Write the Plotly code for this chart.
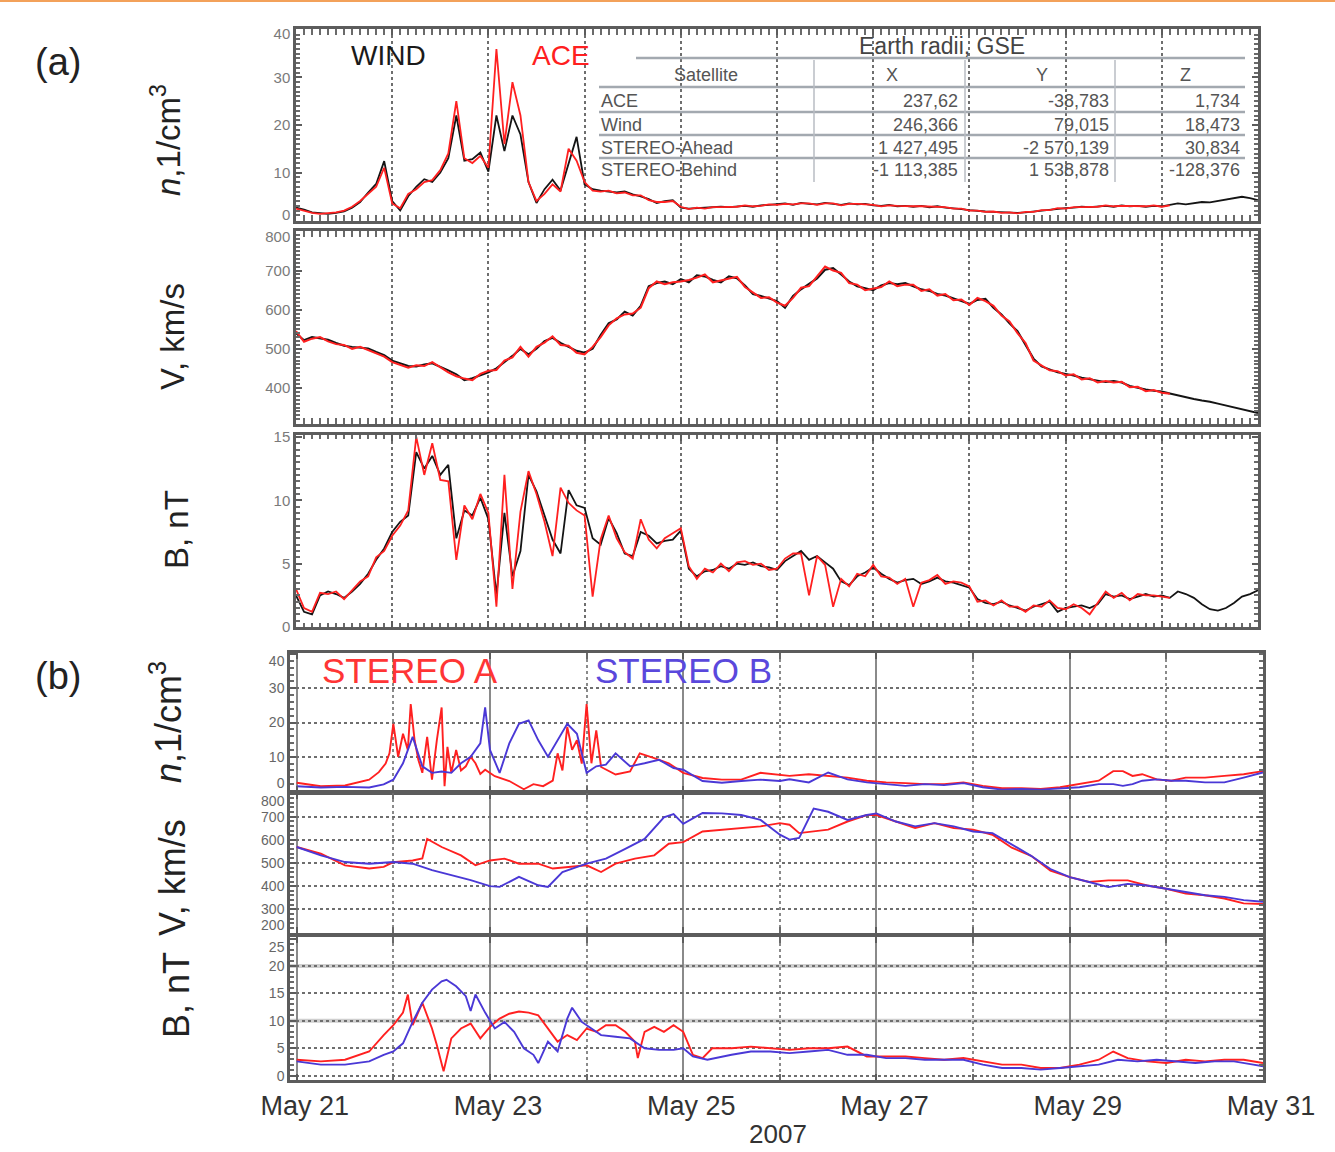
import plotly.graph_objects as go
import pandas as pd

W, H = 1335, 1152
T0 = pd.Timestamp("2007-05-21")

# ---------------- data ----------------
# Panel (a): 2-hourly samples, days since 2007-05-21 00:00
a_days = [i / 12 for i in range(121)]

wind_n = [2.6, 2.2, 1.6, 1.4, 1.3, 1.5, 1.8, 2.6, 3.8, 5.8, 7.6, 12.4,
          4.0, 2.0, 5.0, 7.0, 8.6, 8.0, 10.0, 13.0, 22.0, 12.5, 12.8, 14.2,
          10.2, 22.0, 14.5, 22.0, 18.0, 8.0, 3.6, 6.5, 8.5, 6.2, 12.0, 17.5,
          7.5, 6.5, 6.2, 6.0, 5.8, 6.0, 5.4, 5.0, 4.4, 3.6, 4.0, 4.2,
          2.6, 2.4, 2.5, 2.5, 2.6, 2.8, 2.7, 2.9, 3.0, 2.8, 3.1, 3.2,
          3.3, 3.5, 3.2, 3.6, 3.4, 3.3, 3.6, 3.4, 3.2, 3.5, 3.3, 3.4,
          3.1, 3.0, 3.2, 2.9, 3.0, 2.8, 3.0, 2.7, 2.9, 2.6, 2.5, 2.3,
          2.1, 1.9, 1.8, 1.7, 1.6, 1.5, 1.5, 1.6, 1.8, 2.0, 2.2, 2.4,
          2.5, 2.6, 2.8, 2.7, 2.9, 3.0, 2.8, 3.1, 2.9, 3.0, 2.8, 3.0,
          2.9, 3.2, 3.5, 3.3, 3.6, 3.8, 3.7, 4.0, 4.3, 4.5, 4.9, 4.6,
          4.2]
ace_n = [2.4, 2.0, 1.5, 1.3, 1.4, 1.6, 2.0, 2.8, 4.0, 5.5, 7.0, 11.0,
         3.5, 2.5, 5.5, 6.5, 8.0, 8.4, 10.5, 14.0, 25.0, 13.0, 12.0, 13.5,
         11.0, 36.0, 16.0, 29.0, 22.0, 8.0, 4.0, 5.5, 7.5, 6.0, 15.0, 12.5,
         8.0, 6.2, 6.0, 6.2, 5.6, 5.8, 5.2, 5.2, 4.2, 3.8, 3.8, 4.0,
         2.8, 2.3, 2.6, 2.4, 2.7, 2.7, 2.8, 2.8, 3.1, 2.9, 3.0, 3.3,
         3.2, 3.4, 3.3, 3.5, 3.5, 3.2, 3.5, 3.5, 3.1, 3.4, 3.4, 3.3,
         3.2, 2.9, 3.1, 3.0, 2.9, 2.9, 2.9, 2.8, 2.8, 2.7, 2.4, 2.4,
         2.0, 2.0, 1.7, 1.8, 1.5, 1.6, 1.4, 1.7, 1.7, 2.1, 2.1, 2.5,
         2.4, 2.7, 2.7, 2.8, 2.8, 3.1, 2.9, 3.0, 3.0, 2.9, 2.9, 3.1,
         2.8, 3.1]

wind_v = [540, 522, 530, 527, 523, 515, 508, 505, 503, 501, 492, 484,
          470, 462, 456, 455, 460, 463, 455, 445, 435, 420, 425, 432,
          440, 450, 465, 482, 500, 486, 500, 520, 528, 515, 505, 495,
          490, 500, 535, 565, 575, 595, 585, 610, 660, 668, 672, 665,
          678, 670, 688, 685, 676, 670, 685, 680, 662, 640, 635, 628,
          622, 605, 635, 652, 665, 680, 702, 706, 690, 672, 660, 655,
          650, 662, 668, 665, 668, 660, 652, 648, 640, 636, 628, 622,
          615, 625, 628, 605, 588, 565, 545, 510, 475, 455, 448, 440,
          436, 432, 426, 422, 418, 415, 418, 414, 405, 400, 396, 393,
          391, 386, 381, 376, 372, 368, 365, 360, 355, 351, 346, 341,
          336]
ace_v = [545, 518, 526, 530, 519, 512, 510, 500, 505, 497, 490, 480,
         466, 458, 452, 458, 456, 466, 452, 440, 430, 424, 420, 436,
         444, 446, 470, 478, 505, 480, 505, 516, 532, 510, 508, 490,
         486, 505, 530, 560, 578, 588, 590, 605, 655, 672, 665, 670,
         672, 676, 682, 690, 670, 675, 680, 684, 658, 645, 630, 632,
         618, 610, 630, 656, 660, 685, 710, 700, 694, 668, 664, 650,
         655, 658, 672, 660, 664, 664, 648, 652, 636, 640, 624, 626,
         612, 630, 622, 610, 585, 570, 540, 515, 470, 458, 445, 443,
         432, 435, 422, 425, 414, 418, 414, 416, 402, 403, 392, 395,
         388, 385]

wind_b = [2.5, 1.2, 1.0, 2.5, 2.8, 2.6, 2.3, 2.8, 3.4, 4.2, 5.3, 6.2,
          7.5, 8.3, 8.8, 13.8, 12.5, 13.5, 12.0, 12.8, 7.0, 9.2, 8.8, 10.2,
          8.5, 2.5, 9.0, 4.0, 6.0, 12.0, 10.7, 8.8, 6.9, 5.8, 10.8, 9.6,
          9.4, 7.0, 6.5, 8.6, 7.4, 5.8, 5.6, 7.5, 7.2, 6.6, 6.8, 6.9,
          7.6, 4.6, 4.0, 4.4, 4.5, 4.8, 4.6, 5.0, 4.9, 5.1, 4.8, 4.7,
          4.5, 5.2, 5.6, 6.0, 5.3, 5.6, 5.1, 4.6, 3.6, 3.3, 4.0, 4.3,
          4.7, 4.2, 3.8, 3.5, 3.7, 3.8, 3.4, 3.6, 3.9, 3.6, 3.5, 3.3,
          3.1, 2.2, 1.9, 1.8, 2.0, 1.7, 1.5, 1.3, 1.6, 1.8, 2.0, 1.2,
          1.5, 1.6, 1.7, 1.5, 1.8, 2.6, 2.4, 2.5, 2.2, 2.4, 2.6, 2.4,
          2.5, 2.3, 2.8, 2.6, 2.3, 1.8, 1.4, 1.3, 1.5, 1.9, 2.4, 2.6,
          2.9]
ace_b = [3.0, 1.5, 1.2, 2.7, 2.6, 2.8, 2.2, 2.9, 3.6, 4.0, 5.5, 6.0,
         7.2, 8.0, 9.2, 15.0, 12.0, 14.5, 11.6, 11.5, 5.3, 9.6, 8.5, 10.5,
         9.0, 1.6, 12.0, 3.0, 9.1, 12.3, 10.5, 8.3, 5.6, 11.0, 9.8, 9.2,
         8.8, 2.4, 6.9, 8.8, 7.0, 5.9, 5.4, 8.5, 6.9, 6.2, 7.0, 7.4,
         7.8, 4.8, 3.8, 4.6, 4.3, 5.0, 4.4, 5.1, 5.2, 4.9, 5.0, 4.5,
         4.6, 5.4, 5.8, 5.8, 2.5, 5.6, 4.9, 1.6, 3.8, 3.2, 4.2, 4.0,
         4.9, 4.0, 3.9, 3.4, 3.8, 1.6, 3.5, 3.7, 4.1, 3.4, 3.6, 3.5,
         3.2, 2.0, 2.1, 1.7, 2.1, 1.6, 1.6, 1.2, 1.7, 1.6, 2.1, 1.5,
         1.4, 1.8, 1.5, 1.0, 1.9, 2.8, 2.3, 2.7, 2.1, 2.6, 2.5, 2.5,
         2.4, 2.3]

# Panel (b): STEREO A / B (days since 2007-05-21 00:00)
sta_n_days = [0, 0.25, 0.5, 0.75, 0.85, 0.92, 0.96, 1.0, 1.05, 1.1,
              1.15, 1.18, 1.22, 1.26, 1.3, 1.35, 1.4, 1.45, 1.5, 1.53,
              1.56, 1.6, 1.65, 1.7, 1.75, 1.8, 1.85, 1.9, 1.95, 2.05,
              2.2, 2.35, 2.45, 2.55, 2.65, 2.7, 2.75, 2.8, 2.85, 2.9,
              2.95, 3.0, 3.05, 3.1, 3.15, 3.2, 3.3, 3.45, 3.55, 3.7,
              3.85, 4.0, 4.2, 4.4, 4.6, 4.8, 5.0, 5.1, 5.3, 5.5,
              5.7, 5.9, 6.1, 6.3, 6.5, 6.7, 6.9, 7.1, 7.3, 7.5,
              7.7, 7.9, 8.1, 8.3, 8.45, 8.55, 8.65, 8.75, 8.9, 9.05,
              9.2, 9.4, 9.6, 9.8, 10]
sta_n = [2.4, 1.4, 1.6, 3.3, 5.5, 8.0, 11.0, 19.6, 10.0, 16.7,
         12.0, 25.4, 14.8, 9.0, 5.3, 15.8, 3.3, 14.8, 24.4, 1.4,
         12.9, 5.3, 12.0, 6.0, 7.2, 10.0, 8.1, 5.0, 6.2, 4.3,
         2.9, 0.5, 2.0, 1.4, 3.0, 11.0, 6.0, 18.7, 12.0, 14.8,
         8.0, 25.4, 8.1, 17.7, 7.0, 6.2, 4.8, 5.7, 11.0, 9.6,
         8.1, 5.3, 3.8, 3.3, 3.3, 5.3, 4.8, 4.4, 4.9, 4.4,
         3.9, 3.0, 2.5, 2.3, 2.0, 2.0, 2.5, 1.5, 0.8, 0.8,
         0.6, 1.1, 2.0, 3.0, 5.8, 5.8, 4.4, 4.9, 3.4, 3.0,
         3.9, 3.9, 4.4, 4.9, 5.8]
stb_n_days = [0, 0.25, 0.5, 0.75, 0.9, 1.0, 1.1, 1.2, 1.3, 1.4,
              1.5, 1.6, 1.7, 1.8, 1.9, 1.95, 2.0, 2.1, 2.2, 2.3,
              2.4, 2.5, 2.6, 2.7, 2.8, 2.9, 3.0, 3.1, 3.2, 3.3,
              3.45, 3.6, 3.75, 3.9, 4.0, 4.2, 4.4, 4.6, 4.8, 5.0,
              5.1, 5.3, 5.5, 5.7, 5.9, 6.1, 6.3, 6.5, 6.7, 6.9,
              7.1, 7.3, 7.5, 7.7, 7.9, 8.1, 8.3, 8.45, 8.55, 8.65,
              8.75, 8.9, 9.05, 9.2, 9.4, 9.6, 9.8, 10]
stb_n = [1.4, 1.0, 1.2, 1.0, 1.9, 3.3, 8.1, 15.8, 7.2, 5.3,
         5.7, 5.3, 8.1, 10.0, 13.9, 24.4, 12.0, 5.3, 13.9, 19.6,
         20.6, 14.8, 10.0, 14.8, 19.6, 16.7, 5.3, 7.2, 7.7, 11.0,
         7.2, 8.1, 9.1, 6.7, 6.2, 2.9, 2.4, 2.9, 3.3, 2.9,
         3.4, 2.5, 5.4, 3.4, 2.5, 2.0, 1.5, 2.0, 1.7, 2.3,
         1.1, 0.4, 0.6, 0.4, 0.8, 1.1, 2.0, 2.0, 1.5, 2.0,
         3.0, 3.4, 3.0, 3.0, 2.5, 2.5, 3.9, 5.4]

sta_v_days = [0, 0.25, 0.5, 0.75, 0.9, 1.0, 1.2, 1.3, 1.35, 1.5,
              1.7, 1.85, 2.0, 2.15, 2.3, 2.5, 2.65, 2.8, 3.0, 3.15,
              3.3, 3.5, 3.7, 3.85, 4.0, 4.2, 4.4, 4.6, 4.8, 5.0,
              5.1, 5.2, 5.35, 5.5, 5.7, 5.9, 6.0, 6.2, 6.4, 6.6,
              6.8, 7.0, 7.2, 7.4, 7.6, 7.8, 8.0, 8.2, 8.4, 8.6,
              8.8, 9.0, 9.2, 9.4, 9.6, 9.8, 10]
sta_v = [569, 540, 490, 476, 483, 504, 511, 520, 604, 569,
         533, 490, 511, 519, 497, 497, 476, 483, 490, 461,
         497, 519, 533, 583, 590, 636, 644, 651, 658, 672,
         665, 629, 636, 644, 679, 707, 707, 679, 651, 672,
         651, 644, 622, 566, 531, 467, 439, 418, 425, 425,
         403, 389, 368, 361, 347, 326, 323]
stb_v_days = [0, 0.25, 0.5, 0.75, 1.0, 1.2, 1.4, 1.6, 1.8, 2.0,
              2.1, 2.3, 2.5, 2.6, 2.75, 3.0, 3.2, 3.4, 3.6, 3.8,
              3.9, 4.0, 4.2, 4.4, 4.6, 4.8, 5.0, 5.1, 5.2, 5.35,
              5.5, 5.7, 5.9, 6.0, 6.2, 6.4, 6.6, 6.8, 7.0, 7.2,
              7.4, 7.6, 7.8, 8.0, 8.2, 8.4, 8.6, 8.8, 9.0, 9.2,
              9.4, 9.6, 9.8, 10]
stb_v = [569, 533, 504, 497, 504, 497, 469, 447, 426, 400,
         397, 440, 404, 397, 461, 497, 519, 561, 604, 697,
         711, 669, 716, 714, 707, 686, 622, 601, 608, 735,
         721, 686, 707, 714, 679, 658, 672, 658, 636, 629,
         580, 531, 474, 439, 418, 396, 410, 403, 389, 375,
         361, 354, 340, 333]

sta_b_days = [0, 0.25, 0.5, 0.75, 0.9, 1.0, 1.1, 1.15, 1.2, 1.3,
              1.4, 1.45, 1.52, 1.6, 1.7, 1.8, 1.9, 2.0, 2.1, 2.2,
              2.3, 2.4, 2.5, 2.6, 2.7, 2.8, 2.9, 3.0, 3.1, 3.2,
              3.3, 3.4, 3.5, 3.53, 3.6, 3.7, 3.8, 3.9, 4.0, 4.1,
              4.2, 4.3, 4.5, 4.7, 4.9, 5.1, 5.3, 5.5, 5.7, 5.9,
              6.1, 6.3, 6.5, 6.7, 6.9, 7.1, 7.3, 7.5, 7.7, 7.9,
              8.1, 8.3, 8.45, 8.6, 8.8, 9.0, 9.2, 9.4, 9.6, 9.8,
              10]
sta_b = [2.9, 2.6, 2.9, 4.4, 7.4, 9.2, 11.5, 14.8, 9.2, 13.3,
         8.6, 5.6, 0.8, 6.8, 8.6, 9.5, 6.8, 8.9, 10.4, 11.3,
         11.7, 11.5, 11.0, 8.6, 6.2, 7.4, 6.5, 8.6, 8.0, 9.2,
         9.2, 8.0, 6.2, 3.2, 8.0, 8.9, 8.0, 9.2, 8.0, 3.8,
         3.2, 5.0, 5.0, 5.3, 5.0, 4.7, 5.0, 5.0, 5.3, 3.5,
         3.5, 3.5, 3.2, 2.9, 3.2, 2.6, 2.0, 2.0, 1.4, 1.4,
         2.0, 2.9, 4.4, 3.2, 2.6, 2.3, 2.9, 2.6, 2.9, 2.9,
         2.3]
stb_b_days = [0, 0.25, 0.5, 0.75, 0.9, 1.0, 1.1, 1.2, 1.3, 1.4,
              1.5, 1.55, 1.65, 1.75, 1.8, 1.85, 1.95, 2.05, 2.15, 2.25,
              2.35, 2.45, 2.5, 2.6, 2.7, 2.8, 2.85, 2.95, 3.05, 3.15,
              3.3, 3.45, 3.6, 3.75, 3.9, 4.0, 4.1, 4.25, 4.5, 4.7,
              4.9, 5.1, 5.3, 5.5, 5.7, 5.9, 6.1, 6.3, 6.5, 6.7,
              6.9, 7.1, 7.3, 7.5, 7.7, 7.9, 8.1, 8.3, 8.5, 8.7,
              8.9, 9.1, 9.3, 9.5, 9.7, 9.9, 10]
stb_b = [2.6, 2.0, 2.0, 2.6, 3.8, 4.4, 5.9, 9.8, 13.3, 15.7,
         17.2, 17.5, 16.3, 14.5, 11.8, 14.8, 11.5, 8.6, 9.8, 8.0,
         5.0, 3.8, 2.3, 6.2, 4.4, 10.4, 12.4, 9.8, 8.6, 7.4,
         7.1, 6.8, 5.0, 4.7, 4.7, 5.0, 3.5, 2.9, 3.8, 4.4,
         4.4, 4.1, 4.4, 4.7, 3.8, 3.8, 3.2, 3.2, 2.9, 2.9,
         2.9, 2.0, 1.4, 1.4, 1.1, 1.4, 1.7, 2.0, 2.9, 2.6,
         2.9, 2.6, 2.3, 2.6, 2.6, 2.0, 1.7]

# y tick values of each panel (inner labels / edge labels)
a_n_ticks, a_n_edge = [10, 20, 30], [0, 40]
a_v_ticks, a_v_edge = [400, 500, 600, 700], [800]
a_b_ticks = [0, 5, 10, 15]
b_n_ticks, b_n_edge = [10, 20, 30], [0, 40]
b_v_ticks, b_v_edge = [300, 400, 500, 600, 700], [800, 200]
b_b_ticks, b_b_edge = [0, 5, 10, 15, 20], [25]

# inset table (Earth radii, GSE)
tbl_title = "Earth radii, GSE"
tbl_header = ["Satellite", "X", "Y", "Z"]
tbl_names = ["ACE", "Wind", "STEREO-Ahead", "STEREO-Behind"]
tbl_x = ["237,62", "246,366", "1 427,495", "-1 113,385"]
tbl_y = ["-38,783", "79,015", "-2 570,139", "1 538,878"]
tbl_z = ["1,734", "18,473", "30,834", "-128,376"]

# heavy grey reference lines in STEREO B-panel
b_b_bands = [10, 20]

# ---------------- helpers ----------------
FONT = "Liberation Sans, Arial, sans-serif"
RED = "#ff2020"
BLUE = "#4a38d6"
BLACK = "#141414"
FRAME_COLOR = "#5c5c5c"


def to_time(days):
    return [T0 + pd.Timedelta(days=d) for d in days]


def px_x(p):
    return p / W


def px_y(p):
    return 1 - p / H


fig = go.Figure()


def add_line(days, vals, color, width, ax):
    fig.add_trace(go.Scatter(
        x=to_time(days[:len(vals)]), y=vals, mode="lines",
        line=dict(color=color, width=width),
        xaxis="x" + ax, yaxis="y" + ax, showlegend=False,
        hoverinfo="skip"))


# (a) WIND (black) under ACE (red)
add_line(a_days, wind_n, BLACK, 1.8, "")
add_line(a_days, ace_n, RED, 1.8, "")
add_line(a_days, wind_v, BLACK, 2.0, "2")
add_line(a_days, ace_v, RED, 2.0, "2")
add_line(a_days, wind_b, BLACK, 1.8, "3")
add_line(a_days, ace_b, RED, 1.8, "3")
# (b) STEREO A (red) / STEREO B (blue)
add_line(sta_n_days, sta_n, RED, 1.9, "4")
add_line(stb_n_days, stb_n, BLUE, 1.9, "4")
add_line(sta_v_days, sta_v, RED, 1.9, "5")
add_line(stb_v_days, stb_v, BLUE, 1.9, "5")
add_line(sta_b_days, sta_b, RED, 1.9, "6")
add_line(stb_b_days, stb_b, BLUE, 1.9, "6")

DAY = 86400000
frame = dict(showline=True, linecolor=FRAME_COLOR, linewidth=2.5, mirror="allticks",
             ticks="inside", ticklen=6, tickwidth=1.5, tickcolor=FRAME_COLOR,
             zeroline=False, automargin=False)

xa = dict(frame, type="date", domain=[px_x(296), px_x(1258)],
          range=["2007-05-21", "2007-05-31"], dtick=DAY, tick0="2007-05-21",
          showgrid=True, gridcolor="#6e6e6e", griddash="dot", gridwidth=1.6,
          showticklabels=False,
          minor=dict(dtick=DAY / 12, ticks="inside", ticklen=4,
                     tickcolor="#6a6a6a", showgrid=False))
xb = dict(frame, type="date", domain=[px_x(290), px_x(1263)],
          range=["2007-05-20 22:20", "2007-05-31"], dtick=2 * DAY,
          tick0="2007-05-21", showgrid=True, gridcolor="#8a8a8a", gridwidth=1.5,
          showticklabels=False,
          minor=dict(dtick=DAY, ticks="inside", ticklen=5, tickcolor="#6a6a6a",
                     showgrid=True, griddash="dot", gridcolor="#8a8a8a",
                     gridwidth=1.5))

ya_font = dict(family=FONT, size=15, color="#7a7a7a")
yb_font = dict(family=FONT, size=14, color="#666666")
bgrid = dict(showgrid=True, griddash="dot", gridcolor="#6e6e6e", gridwidth=1.5)

# y-axis setup: number -> (x anchor, pixel top, pixel bottom, range, ticks, minor dtick, font, grid)
ycfg = {
    1: ("x", 29, 221, [-0.2, 40.2], a_n_ticks, 1, ya_font, dict(showgrid=False)),
    2: ("x2", 231, 424, [308, 801], a_v_ticks, 10, ya_font, dict(showgrid=False)),
    3: ("x3", 435, 627, [0, 15.15], a_b_ticks, 0.5, ya_font, dict(showgrid=False)),
    4: ("x4", 653, 792, [-0.3, 40.3], b_n_ticks, 2, yb_font, bgrid),
    5: ("x5", 793, 933, [198, 802], b_v_ticks, 20, yb_font, bgrid),
    6: ("x6", 937, 1080, [-0.8, 25.3], b_b_ticks, 1, yb_font, bgrid),
}

layout = dict(
    width=W, height=H, margin=dict(l=0, r=0, t=0, b=0, autoexpand=False),
    paper_bgcolor="white", plot_bgcolor="white",
    font=dict(family=FONT), showlegend=False,
    xaxis=dict(xa, anchor="y"),
    xaxis2=dict(xa, anchor="y2", matches="x"),
    xaxis3=dict(xa, anchor="y3", matches="x"),
    xaxis4=dict(xb, anchor="y4"),
    xaxis5=dict(xb, anchor="y5", matches="x4"),
    xaxis6=dict(xb, anchor="y6", matches="x4", showticklabels=True,
                tickformat="%b %d", ticklabelshift=8,
                tickfont=dict(family=FONT, size=27, color="#333333")),
)
for k, (xref, top, bot, rng, ticks, mdt, fnt, grid) in ycfg.items():
    name = "yaxis" if k == 1 else "yaxis%d" % k
    layout[name] = dict(frame, anchor=xref, domain=[px_y(bot), px_y(top)], range=rng,
                        tickmode="array", tickvals=ticks, tickfont=fnt, **grid,
                        minor=dict(dtick=mdt, ticks="inside", ticklen=4,
                                   tickcolor="#6a6a6a"))

# edge tick labels (at the frame) are pushed inward, as in the original figure;
# drawn by label-only axes overlaying the panel axes.
# (panel, tick values, pixel shift; positive = down the page)
edge_cfg = [(1, a_n_edge[:1], -5), (1, a_n_edge[1:], 4), (2, a_v_edge, 5),
            (4, b_n_edge[:1], -8), (4, b_n_edge[1:], 7),
            (5, b_v_edge[:1], 8), (5, b_v_edge[1:], -7), (6, b_b_edge, 8)]
nxt = 7
for panel, vals, shift in edge_cfg:
    xref, top, bot, rng, ticks, mdt, fnt, grid = ycfg[panel]
    base = "y" if panel == 1 else "y%d" % panel
    layout["yaxis%d" % nxt] = dict(
        overlaying=base, anchor=xref, side="left", range=rng,
        tickmode="array", tickvals=vals, ticklabelshift=shift,
        showline=True, linecolor=FRAME_COLOR, linewidth=2.5,
        ticks="inside", ticklen=6, tickwidth=1.5, tickcolor=FRAME_COLOR,
        showgrid=False, zeroline=False, tickfont=fnt, automargin=False)
    # an empty trace so that the label axis is instantiated
    fig.add_trace(go.Scatter(x=[None], y=[None], mode="lines", xaxis=xref,
                             yaxis="y%d" % nxt, showlegend=False, hoverinfo="skip"))
    nxt += 1

fig.update_layout(**layout)

shapes = []
# orange rule at top of page
shapes.append(dict(type="line", xref="paper", yref="paper", x0=0, x1=1, y0=1, y1=1,
                   line=dict(color="#f3a15a", width=4)))
# heavy grey reference lines in (b) B-panel
for v in b_b_bands:
    shapes.append(dict(type="line", xref="x6 domain", yref="y6", x0=0, x1=1,
                       y0=v, y1=v, layer="below",
                       line=dict(color="#cfcfcf", width=4)))
# table rules
TL = "#a3a9b0"
shapes.append(dict(type="line", xref="paper", yref="paper", x0=px_x(636), x1=px_x(1245),
                   y0=px_y(58), y1=px_y(58), line=dict(color=TL, width=2.5)))
for yy in [87, 112, 135, 158]:
    shapes.append(dict(type="line", xref="paper", yref="paper", x0=px_x(599),
                       x1=px_x(1245), y0=px_y(yy), y1=px_y(yy),
                       line=dict(color=TL, width=2.5)))
for xx in [814, 965, 1115]:
    shapes.append(dict(type="line", xref="paper", yref="paper", x0=px_x(xx), x1=px_x(xx),
                       y0=px_y(60), y1=px_y(182), line=dict(color="#b8bdc3", width=1.5)))
fig.update_layout(shapes=shapes)

ann = []


def text(s, x, y, size, color="#222222", xanchor="center", angle=0):
    ann.append(dict(text=s, x=px_x(x), y=px_y(y), xref="paper", yref="paper",
                    xanchor=xanchor, yanchor="middle", showarrow=False,
                    textangle=angle, font=dict(family=FONT, size=size, color=color)))


text("(a)", 58, 62, 38)
text("(b)", 58, 676, 38)
text("<i>n</i>,1/cm<sup>3</sup>", 166, 140, 33, angle=-90)
text("V, km/s", 172, 337, 33, angle=-90)
text("B, nT", 176, 530, 33, angle=-90)
text("<i>n</i>,1/cm<sup>3</sup>", 166, 722, 36, angle=-90)
text("V, km/s", 172, 878, 36, angle=-90)
text("B, nT", 176, 995, 36, angle=-90)
text("WIND", 388, 55, 28, "#1a1a1a")
text("ACE", 561, 55, 28, RED)
text("STEREO A", 410, 670, 35, "#ff3535")
text("STEREO B", 683, 670, 35, "#5a48dc")
text("2007", 778, 1134, 26, "#333333")

TC = "#555555"
text(tbl_title, 942, 46, 23, "#444444")
for s, xx in zip(tbl_header, [706, 892, 1042, 1185]):
    text(s, xx, 75, 18, TC)
for i, yy in enumerate([101, 125, 148, 170]):
    text(tbl_names[i], 599, yy, 18, TC, xanchor="left")
    text(tbl_x[i], 960, yy, 18, TC, xanchor="right")
    text(tbl_y[i], 1111, yy, 18, TC, xanchor="right")
    text(tbl_z[i], 1242, yy, 18, TC, xanchor="right")

fig.update_layout(annotations=ann)

fig.write_html("out.html", config={"displayModeBar": False},
               post_script="document.body.style.margin='0px';document.body.style.overflow='hidden';")
